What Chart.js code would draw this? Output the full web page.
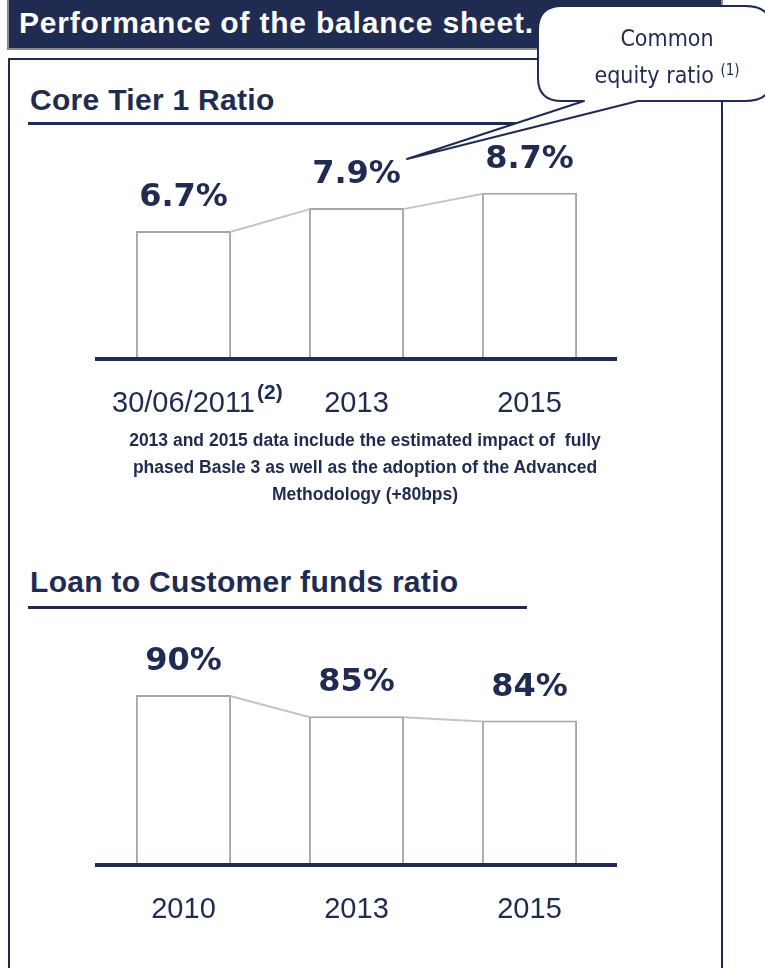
<!DOCTYPE html>
<html>
<head>
<meta charset="utf-8">
<script src="https://cdn.jsdelivr.net/npm/chart.js@4.4.1/dist/chart.umd.min.js"></script>
<style>
  html, body { margin: 0; padding: 0; background: #fff; }
  #page { position: relative; width: 765px; height: 968px; overflow: hidden; font-family: "Liberation Sans", Arial, sans-serif; color: #1f2b50; }
  .header { position: absolute; left: 7px; top: -2px; width: 712px; height: 48px; background: #1f2b50; border: 2px solid #8a8a8a; }
  .header span { position: absolute; left: 10px; top: 6px; color: #fff; font-weight: bold; font-size: 30px; letter-spacing: 0.8px; white-space: nowrap; }
  .box { position: absolute; left: 8px; top: 58px; width: 711px; height: 940px; border: 2px solid #1f2b50; }
  .title { position: absolute; left: 30px; font-weight: bold; font-size: 30px; letter-spacing: 0.3px; white-space: nowrap; }
  .rule { position: absolute; left: 28px; height: 3px; background: #1f2b50; }
  .note { position: absolute; left: 60px; width: 610px; top: 427px; text-align: center; font-weight: bold; font-size: 17.5px; line-height: 27px; }
  canvas { position: absolute; left: 0; }
  #callout { position: absolute; left: 0; top: 0; }
  .bubble { position: absolute; left: 552px; top: 20px; width: 230px; text-align: center; font-family: "DejaVu Sans Condensed", "DejaVu Sans", sans-serif; font-stretch: condensed; font-size: 23px; line-height: 37px; color: #1f2b50; }
  .bubble sup { font-size: 15px; vertical-align: 8px; line-height: 0; }
</style>
</head>
<body>
<div id="page">
  <div class="box"></div>
  <div class="header"><span>Performance of the balance sheet.</span></div>

  <div class="title" style="top:83px">Core Tier 1 Ratio</div>
  <div class="rule" style="top:122px; width:492px"></div>

  <canvas id="chartCore" width="765" height="330" style="top:130px"></canvas>

  <div class="note">2013 and 2015 data include the estimated impact of&nbsp; fully<br>phased Basle 3 as well as the adoption of the Advanced<br>Methodology (+80bps)</div>

  <div class="title" style="top:565px">Loan to Customer funds ratio</div>
  <div class="rule" style="top:606px; width:499px"></div>

  <canvas id="chartLoan" width="765" height="340" style="top:620px"></canvas>

  <svg id="callout" width="765" height="170">
    <path d="M 562 6 L 745 6 Q 772 6 772 30 L 772 78 Q 772 101 745 101 L 638 101 L 407 159 L 584 101 L 562 101 Q 538 101 538 78 L 538 30 Q 538 6 562 6 Z"
          fill="#fff" stroke="#1f2b50" stroke-width="2" stroke-linejoin="round"/>
  </svg>
  <div class="bubble">Common<br>equity ratio <sup>(1)</sup></div>
</div>

<script>
const NAVY = '#1f2b50';

// Core Tier 1 ratio (%)
const coreLabels = ['30/06/2011', '2013', '2015'];
const coreValues = [6.7, 7.9, 8.7];
const coreNotes = ['(2)', '', ''];

// Loan to customer funds ratio (%)
const loanLabels = ['2010', '2013', '2015'];
const loanValues = [90, 85, 84];

const TICK_FONT = '"Liberation Sans", Arial, sans-serif';

// value labels above each bar
const valueLabels = {
  id: 'valueLabels',
  afterDraw(chart, args, opts) {
    const { ctx } = chart;
    const meta = chart.getDatasetMeta(0);
    ctx.save();
    ctx.fillStyle = NAVY;
    ctx.font = 'bold 32px "DejaVu Sans", Verdana, sans-serif';
    ctx.textAlign = 'center';
    ctx.textBaseline = 'alphabetic';
    meta.data.forEach((bar, i) => {
      const v = chart.data.datasets[0].data[i];
      ctx.fillText(opts.format(v), bar.x, bar.y - opts.offset);
    });
    ctx.restore();
  }
};

// thin grey lines joining the tops of neighbouring bars
const barLinks = {
  id: 'barLinks',
  afterDatasetsDraw(chart) {
    const { ctx } = chart;
    const bars = chart.getDatasetMeta(0).data;
    ctx.save();
    ctx.strokeStyle = '#c4c4c4';
    ctx.lineWidth = 2;
    for (let i = 0; i < bars.length - 1; i++) {
      const a = bars[i], b = bars[i + 1];
      ctx.beginPath();
      ctx.moveTo(a.x + a.width / 2 - 1, a.y + 1);
      ctx.lineTo(b.x - b.width / 2 + 1, b.y + 1);
      ctx.stroke();
    }
    ctx.restore();
  }
};

// footnote marks next to tick labels
const tickNotes = {
  id: 'tickNotes',
  afterDraw(chart, args, opts) {
    if (!opts.notes) return;
    const { ctx } = chart;
    const xs = chart.scales.x;
    ctx.save();
    opts.notes.forEach((note, i) => {
      if (!note) return;
      ctx.font = '29px ' + TICK_FONT;
      const w = ctx.measureText(chart.data.labels[i]).width;
      const x = xs.getPixelForTick(i) + w / 2 + 2;
      ctx.font = 'bold 21px ' + TICK_FONT;
      ctx.fillStyle = NAVY;
      ctx.textAlign = 'left';
      ctx.textBaseline = 'alphabetic';
      ctx.fillText(note, x, xs.top + 40);
    });
    ctx.restore();
  }
};

function makeChart(id, labels, values, yMin, yMax, pad, fmt, notes) {
  return new Chart(document.getElementById(id), {
    type: 'bar',
    data: {
      labels,
      datasets: [{
        data: values,
        backgroundColor: '#ffffff',
        borderColor: '#a6a6a6',
        borderWidth: 2,
        borderSkipped: 'bottom',
        categoryPercentage: 1,
        barPercentage: 0.55
      }]
    },
    options: {
      responsive: false,
      animation: false,
      layout: { padding: pad },
      plugins: {
        legend: { display: false },
        tooltip: { enabled: false },
        valueLabels: { format: fmt, offset: 25 },
        tickNotes: { notes }
      },
      scales: {
        x: {
          grid: { display: false, drawTicks: false },
          border: { display: true, color: NAVY, width: 4, z: 1 },
          ticks: {
            color: NAVY,
            padding: 28,
            font: { family: TICK_FONT, size: 29 }
          },
          afterFit(scale) { scale.height = 80; }
        },
        y: { display: false, min: yMin, max: yMax }
      }
    },
    plugins: [barLinks, valueLabels, tickNotes]
  });
}

makeChart('chartCore', coreLabels, coreValues, 0, 10,
  { left: 97, right: 149, top: 38, bottom: 21 },
  v => v.toFixed(1) + '%', coreNotes);

makeChart('chartLoan', loanLabels, loanValues, 50, 100,
  { left: 97, right: 149, top: 32.5, bottom: 15 },
  v => v + '%', null);
</script>
</body>
</html>
